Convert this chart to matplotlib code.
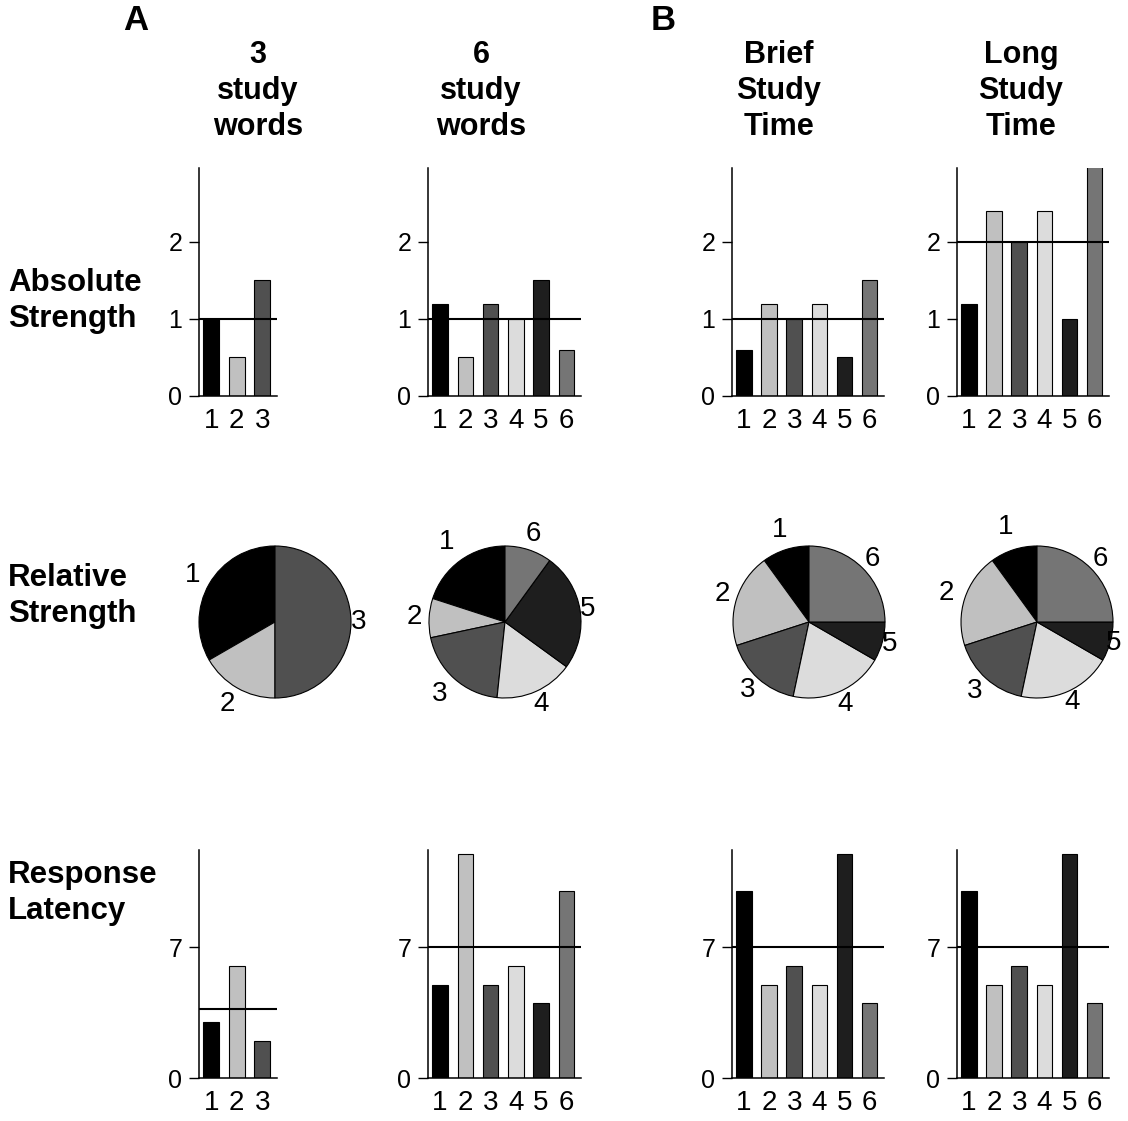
import matplotlib.pyplot as plt
import numpy as np

plt.rcParams['font.family'] = ['Liberation Sans', 'DejaVu Sans']

# figure size in pixels
W, H = 1128, 1121

# titles
col_titles = ['3\nstudy\nwords', '6\nstudy\nwords', 'Brief\nStudy\nTime', 'Long\nStudy\nTime']
row_titles = ['Absolute\nStrength', 'Relative\nStrength', 'Response\nLatency']

# item labels
items_3 = ['1', '2', '3']
items_6 = ['1', '2', '3', '4', '5', '6']

# absolute strength of each study word
strength_3words = [1.0, 0.5, 1.5]
strength_6words = [1.2, 0.5, 1.2, 1.0, 1.5, 0.6]
strength_brief = [0.6, 1.2, 1.0, 1.2, 0.5, 1.5]
strength_long = [1.2, 2.4, 2.0, 2.4, 1.0, 3.0]

# response latency of each study word
latency_3words = [3, 6, 2]
latency_6words = [5, 12, 5, 6, 4, 10]
latency_brief = [10, 5, 6, 5, 12, 4]
latency_long = [10, 5, 6, 5, 12, 4]

shades = ['#000000', '#c0c0c0', '#505050', '#dcdcdc', '#1e1e1e', '#757575']

# how far out each pie label sits (in pie radii)
label_r = [[1.25, 1.25, 1.1],
           [1.3, 1.2, 1.28, 1.18, 1.1, 1.22],
           [1.27, 1.2, 1.21, 1.18, 1.1, 1.17],
           [1.32, 1.25, 1.22, 1.15, 1.05, 1.18]]


def rect(x0, y0, x1, y1):
    # pixel box (top-left origin) -> figure fraction
    return [x0 / W, 1 - y1 / H, (x1 - x0) / W, (y1 - y0) / H]


def bar_panel(ax, labels, vals, ytop, yticks):
    x = np.arange(1, len(vals) + 1)
    ax.bar(x, vals, width=0.62, color=shades[:len(vals)], edgecolor='black', linewidth=0.8)
    ax.axhline(np.mean(vals), color='black', lw=1.5)
    ax.set_xlim(0.52, len(vals) + 0.58)
    ax.set_ylim(0, ytop)
    ax.set_xticks(x, labels)
    ax.set_yticks(yticks)
    for s in ['top', 'right']:
        ax.spines[s].set_visible(False)
    for s in ['left', 'bottom']:
        ax.spines[s].set_linewidth(1.1)
    ax.tick_params(axis='x', length=0, labelsize=20, pad=9)
    ax.tick_params(axis='y', length=7, width=1, labelsize=18, pad=5)


def pie_panel(ax, labels, vals, radii):
    wedges, texts = ax.pie(vals, labels=labels, colors=shades[:len(vals)], startangle=90,
                           counterclock=True, labeldistance=1.0,
                           wedgeprops={'edgecolor': 'black', 'linewidth': 0.8},
                           textprops={'fontsize': 20, 'ha': 'center', 'va': 'center'})
    for t, r in zip(texts, radii):
        px, py = t.get_position()
        t.set_position((px * r, py * r))
    lim = 120 / 76
    ax.set_xlim(-lim, lim)
    ax.set_ylim(-lim, lim)
    ax.set_aspect('equal')


fig = plt.figure(figsize=(W / 100, H / 100), dpi=100)

bar_cols = [(199, 277), (428, 581), (732, 884), (957, 1109)]
pie_cx = [275, 505, 809, 1037]
col_centers = [258, 481, 779, 1021]

labels_list = [items_3, items_6, items_6, items_6]
strengths = [strength_3words, strength_6words, strength_brief, strength_long]
latencies = [latency_3words, latency_6words, latency_brief, latency_long]

for i in range(4):
    x0, x1 = bar_cols[i]
    ax = fig.add_axes(rect(x0, 168, x1, 396))
    bar_panel(ax, labels_list[i], strengths[i], 2.96, [0, 1, 2])

    cx = pie_cx[i]
    ax = fig.add_axes(rect(cx - 120, 502, cx + 120, 742))
    pie_panel(ax, labels_list[i], strengths[i], label_r[i])

    ax = fig.add_axes(rect(x0, 850, x1, 1078))
    bar_panel(ax, labels_list[i], latencies[i], 12.2, [0, 7])

    fig.text(col_centers[i] / W, 1 - 91 / H, col_titles[i], ha='center', va='center',
             fontsize=22, fontweight='bold', linespacing=1.25)

row_y = [301, 596, 893]
for t, y in zip(row_titles, row_y):
    fig.text(8 / W, 1 - y / H, t, ha='left', va='center', fontsize=22.5,
             fontweight='bold', linespacing=1.22)

fig.text(136 / W, 1 - 21 / H, 'A', ha='center', va='center', fontsize=25, fontweight='bold')
fig.text(663 / W, 1 - 21 / H, 'B', ha='center', va='center', fontsize=25, fontweight='bold')

fig.savefig('out.png', dpi=100)
